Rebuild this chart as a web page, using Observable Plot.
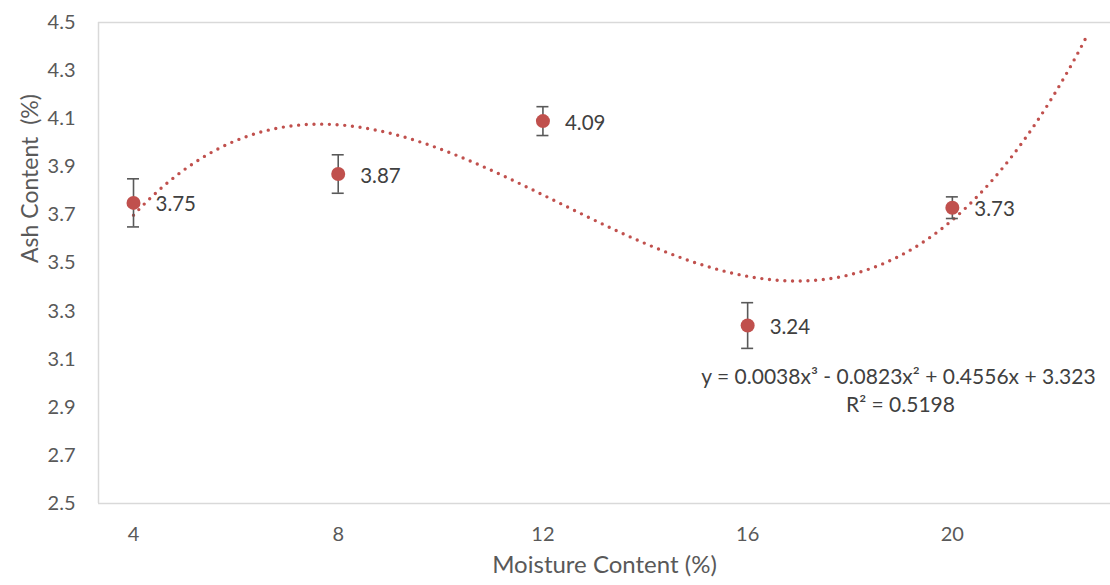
<!DOCTYPE html>
<html><head><meta charset="utf-8">
<script src="https://cdn.jsdelivr.net/npm/d3@7"></script>
<script src="https://cdn.jsdelivr.net/npm/@observablehq/plot@0.6"></script>
<style>body{margin:0;background:#fff;} #chart svg{display:block;}</style>
</head><body><div id="chart"></div>
<script>
const moisture = [4, 8, 12, 16, 20];
const ash = [3.75, 3.87, 4.09, 3.24, 3.73];
const ashErr = [0.10, 0.08, 0.06, 0.095, 0.045];
const labels = ["3.75", "3.87", "4.09", "3.24", "3.73"];
const xTicks = [4, 8, 12, 16, 20];
const yTicks = [2.5, 2.7, 2.9, 3.1, 3.3, 3.5, 3.7, 3.9, 4.1, 4.3, 4.5];
const xDomain = [3.316, 23.09];
const yDomain = [2.5, 4.5];
const trendForward = 2.65;
const xTitle = "Moisture Content (%)";
const yTitle = "Ash Content  (%)";
const eqText = "y = 0.0038x³ - 0.0823x² + 0.4556x + 3.323";
const r2Text = "R² = 0.5198";

const RED = "#C0504D";
const FONT = "Lato, 'Open Sans', sans-serif";

// least-squares polynomial fit (Excel polynomial trendline, order 3)
function polyfit(xs, ys, deg) {
  const n = deg + 1;
  const A = Array.from({length: n}, () => new Array(n + 1).fill(0));
  for (let i = 0; i < xs.length; i++) {
    for (let r = 0; r < n; r++) {
      for (let c = 0; c < n; c++) A[r][c] += Math.pow(xs[i], r + c);
      A[r][n] += ys[i] * Math.pow(xs[i], r);
    }
  }
  for (let p = 0; p < n; p++) {
    let m = p;
    for (let r = p + 1; r < n; r++) if (Math.abs(A[r][p]) > Math.abs(A[m][p])) m = r;
    [A[p], A[m]] = [A[m], A[p]];
    for (let r = 0; r < n; r++) {
      if (r === p) continue;
      const f = A[r][p] / A[p][p];
      for (let c = p; c <= n; c++) A[r][c] -= f * A[p][c];
    }
  }
  return A.map((row, i) => row[n] / row[i]);
}
const coef = polyfit(moisture, ash, 3);
const fx = x => coef.reduce((s, c, i) => s + c * Math.pow(x, i), 0);
const x0 = moisture[0], x1 = moisture[moisture.length - 1] + trendForward;
const trend = d3.range(0, 301).map(i => {
  const x = x0 + (x1 - x0) * i / 300;
  return {x, y: fx(x)};
});

const data = moisture.map((m, i) => ({x: m, y: ash[i], lo: ash[i] - ashErr[i], hi: ash[i] + ashErr[i], label: labels[i]}));

const chart = Plot.plot({
  width: 1110,
  height: 585,
  marginTop: 22,
  marginBottom: 82,
  marginLeft: 98,
  marginRight: 0,
  style: {fontFamily: FONT, background: "#fff"},
  x: {domain: xDomain},
  y: {domain: yDomain},
  marks: [
    Plot.ruleY([yDomain[0], yDomain[1]], {stroke: "#d9d9d9", strokeWidth: 1.5}),
    Plot.ruleX([xDomain[0]], {stroke: "#d9d9d9", strokeWidth: 1.5}),
    Plot.axisX({ticks: xTicks, tickSize: 0, tickPadding: 23, fontSize: 20, color: "#595959", label: null, tickFormat: d => String(d)}),
    Plot.axisY({ticks: yTicks, tickSize: 0, tickPadding: 23, fontSize: 20, color: "#595959", label: null, tickFormat: d3.format(".1f")}),
    Plot.text([xTitle], {frameAnchor: "bottom", dy: 69, fontSize: 24, fill: "#595959"}),
    Plot.text([yTitle], {frameAnchor: "left", dx: -68, rotate: -90, fontSize: 23, fill: "#595959"}),
    Plot.line(trend, {x: "x", y: "y", stroke: RED, strokeWidth: 3.4, strokeDasharray: "0 7.7", strokeLinecap: "round", clip: true}),
    Plot.ruleX(data, {x: "x", y1: "lo", y2: "hi", stroke: "#595959", strokeWidth: 1.6}),
    Plot.ruleY(data, {x1: "x", x2: "x", y: "lo", insetLeft: -6, insetRight: -6, stroke: "#595959", strokeWidth: 1.6}),
    Plot.ruleY(data, {x1: "x", x2: "x", y: "hi", insetLeft: -6, insetRight: -6, stroke: "#595959", strokeWidth: 1.6}),
    Plot.dot(data, {x: "x", y: "y", r: 7, fill: RED, stroke: null}),
    Plot.text(data, {x: "x", y: "y", text: "label", dx: 22, dy: 2, textAnchor: "start", fontSize: 20.5, fill: "#404040"}),
    Plot.text([eqText], {frameAnchor: "bottom-right", textAnchor: "middle", dx: -212, dy: -120, fontSize: 21, fill: "#404040"}),
    Plot.text([r2Text], {frameAnchor: "bottom-right", textAnchor: "middle", dx: -210, dy: -92, fontSize: 21, fill: "#404040"})
  ]
});
document.getElementById("chart").appendChild(chart);
</script>
</body></html>
